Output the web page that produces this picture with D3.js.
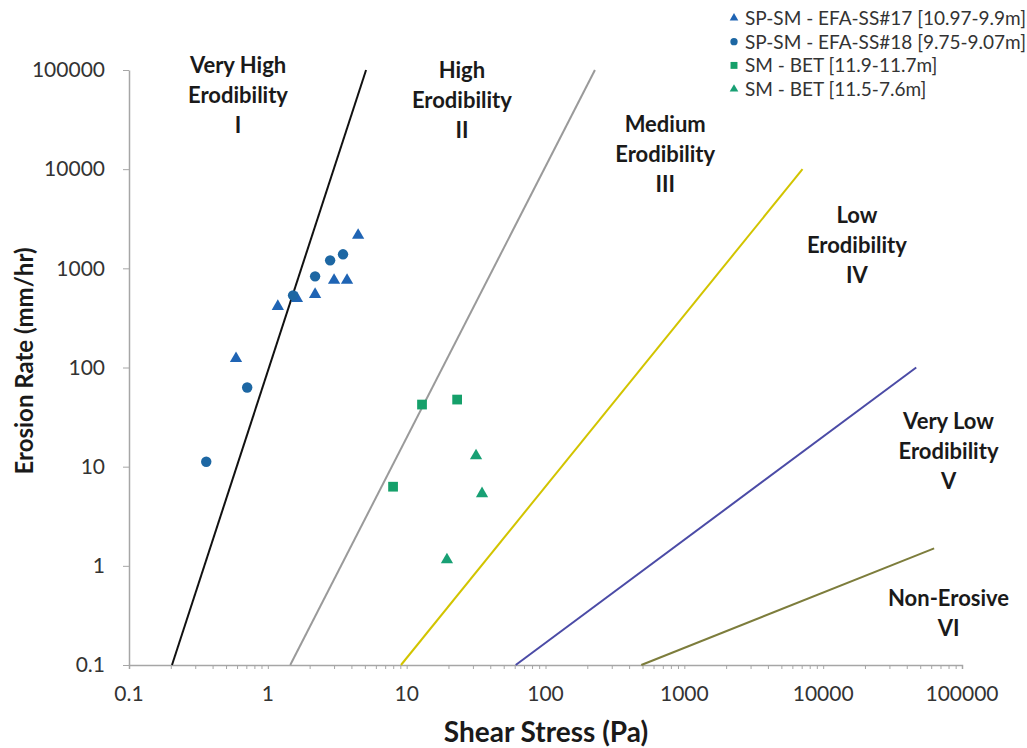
<!DOCTYPE html>
<html lang="en">
<head>
<meta charset="UTF-8">
<title>Erodibility Chart</title>
<script src="https://cdn.jsdelivr.net/npm/d3@7"></script>
<style>
  body { margin: 0; background: #fff; }
  text { font-family: Lato, "Open Sans", sans-serif; }
</style>
</head>
<body>
<div id="chart"></div>
<script>
// data
const ss17 = [[1.18, 413], [0.59, 123], [1.62, 498], [2.19, 546], [3.0, 757], [3.72, 757], [4.47, 2155]];
const ss18 = [[0.36, 11.2], [0.71, 62.8], [1.52, 534], [2.19, 830], [2.81, 1203], [3.48, 1385]];
const bet1 = [[12.9, 42.3], [23.1, 47.5], [7.98, 6.28]];
const bet2 = [[31.6, 12.9], [34.9, 5.34], [19.5, 1.15]];

// zone boundary lines [x1, y1, x2, y2]
const boundaries = [
  [0.204, 0.1, 5.1, 100000],
  [1.45, 0.1, 227, 100000],
  [9.1, 0.1, 7100, 10000],
  [61, 0.1, 46800, 100],
  [490, 0.1, 63000, 1.5]
];
const boundaryColors = ["#111111", "#9a9a9a", "#d2c400", "#4b4ba6", "#7d7d3c"];

const zoneLabels = [
  ["Very High", "Erodibility", "I"],
  ["High", "Erodibility", "II"],
  ["Medium", "Erodibility", "III"],
  ["Low", "Erodibility", "IV"],
  ["Very Low", "Erodibility", "V"],
  ["Non-Erosive", "VI"]
];
// first-line anchor of each zone label, in data units
const zoneAnchor = [[0.61, 93300], [25, 83000], [728, 23700], [17500, 2850], [80000, 24.2], [80000, 0.394]];

const xTicks = [0.1, 1, 10, 100, 1000, 10000, 100000];
const yTicks = [0.1, 1, 10, 100, 1000, 10000, 100000];

const legendNames = ["SP-SM - EFA-SS#17 [10.97-9.9m]", "SP-SM - EFA-SS#18 [9.75-9.07m]", "SM - BET [11.9-11.7m]", "SM - BET [11.5-7.6m]"];

const w = 1027, h = 748;
const svg = d3.select("#chart").append("svg").attr("width", w).attr("height", h);

const x = d3.scaleLog().domain([0.1, 100000]).range([129, 962]);
const y = d3.scaleLog().domain([0.1, 100000]).range([665, 70]);

const fmt = d => String(+d.toPrecision(6));

// axes
const minor = [];
for (let e = -1; e < 5; e++) for (let k = 1; k < 10; k++) minor.push(k * Math.pow(10, e));
minor.push(100000);

const xAxis = svg.append("g").attr("transform", `translate(0,${y(0.1)})`)
  .call(d3.axisBottom(x).tickValues(minor).tickSize(4).tickFormat(""));
xAxis.select(".domain").attr("stroke", "#a6a6a6").attr("stroke-width", 1.5);
xAxis.selectAll(".tick line").attr("stroke", "#a6a6a6");

svg.append("g").selectAll("text").data(xTicks).join("text")
  .attr("x", d => x(d)).attr("y", 701)
  .attr("text-anchor", "middle").attr("font-size", 21).attr("fill", "#333")
  .text(fmt);

const yAxis = svg.append("g").attr("transform", `translate(${x(0.1)},0)`)
  .call(d3.axisLeft(y).tickValues(yTicks).tickSize(6).tickSizeOuter(0).tickPadding(18).tickFormat(fmt));
yAxis.select(".domain").attr("stroke", "#a6a6a6").attr("stroke-width", 1.5);
yAxis.selectAll(".tick line").attr("stroke", "#a6a6a6");
yAxis.selectAll(".tick text").attr("font-size", 21).attr("fill", "#333")
  .style("font-family", "Lato, 'Open Sans', sans-serif");

// boundary lines
svg.append("g").selectAll("line").data(boundaries).join("line")
  .attr("x1", d => x(d[0])).attr("y1", d => y(d[1]))
  .attr("x2", d => x(d[2])).attr("y2", d => y(d[3]))
  .attr("stroke", (d, i) => boundaryColors[i]).attr("stroke-width", 2);

// zone labels
zoneLabels.forEach((lines, i) => {
  const cx = x(zoneAnchor[i][0]);
  const t = svg.append("text")
    .attr("x", cx).attr("y", y(zoneAnchor[i][1]))
    .attr("text-anchor", "middle").attr("font-size", 22).attr("font-weight", "bold").attr("fill", "#1a1a1a");
  lines.forEach((s, j) => t.append("tspan").attr("x", cx).attr("dy", j ? 30 : 0).text(s));
});

// markers
const tri = d3.symbol().type(d3.symbolTriangle).size(65);
const circ = d3.symbol().type(d3.symbolCircle).size(85);
const sq = d3.symbol().type(d3.symbolSquare).size(95);

const series = [
  { data: ss17, sym: tri, color: "#1f64b4" },
  { data: ss18, sym: circ, color: "#1d67a3" },
  { data: bet1, sym: sq, color: "#15a06a" },
  { data: bet2, sym: tri, color: "#18a074" }
];

series.forEach(s => {
  svg.append("g").selectAll("path").data(s.data).join("path")
    .attr("d", s.sym)
    .attr("transform", d => `translate(${x(d[0])},${y(d[1])})`)
    .attr("fill", s.color);
});

// legend
const legendSym = [
  d3.symbol().type(d3.symbolTriangle).size(32),
  d3.symbol().type(d3.symbolCircle).size(42),
  d3.symbol().type(d3.symbolSquare).size(48),
  d3.symbol().type(d3.symbolTriangle).size(32)
];
const lg = svg.append("g");
legendNames.forEach((name, i) => {
  const yy = 18 + i * 23.7;
  lg.append("path").attr("d", legendSym[i]).attr("transform", `translate(734,${yy})`).attr("fill", series[i].color);
  lg.append("text").attr("x", 745).attr("y", yy + 7).attr("font-size", 19).attr("fill", "#333").text(name);
});

// axis titles
svg.append("text").attr("x", 546).attr("y", 742).attr("text-anchor", "middle")
  .attr("font-size", 28).attr("font-weight", "bold").attr("fill", "#1a1a1a").text("Shear Stress (Pa)");
svg.append("text").attr("transform", "translate(33,361) rotate(-90)").attr("text-anchor", "middle")
  .attr("font-size", 24).attr("font-weight", "bold").attr("fill", "#1a1a1a").text("Erosion Rate (mm/hr)");
</script>
</body>
</html>
